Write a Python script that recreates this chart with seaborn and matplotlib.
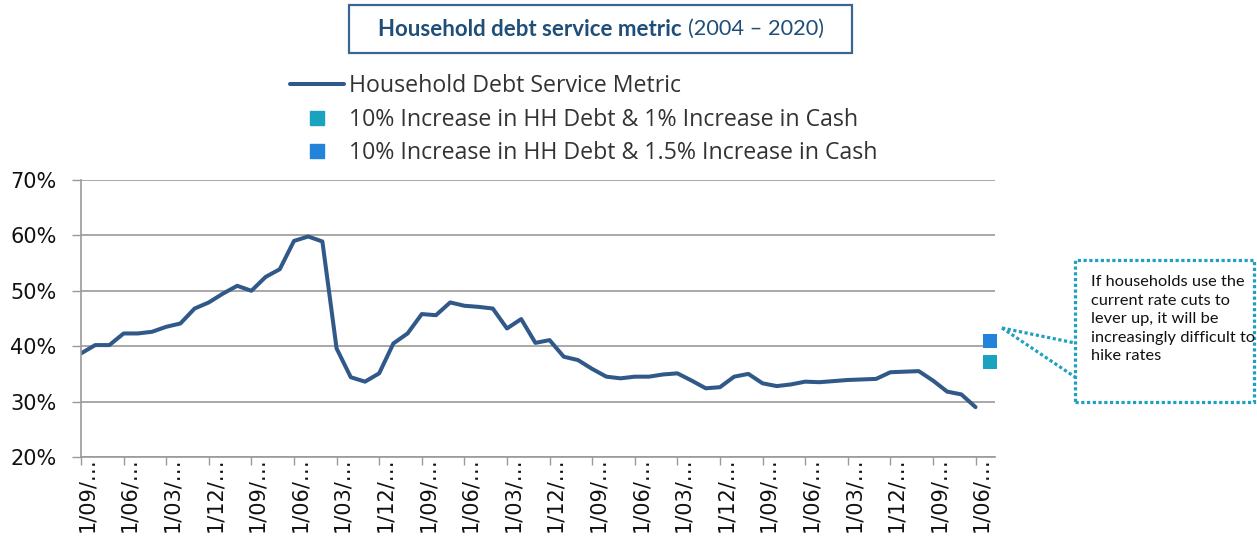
import numpy as np
import pandas as pd
import matplotlib
matplotlib.use("Agg")
import matplotlib.pyplot as plt
import matplotlib.transforms as mtransforms
from matplotlib.lines import Line2D
from matplotlib.patches import Rectangle
from matplotlib.ticker import FuncFormatter
import seaborn as sns

# Quarterly household debt service metric (%), Sep 2004 - Jun 2020
quarters = pd.date_range("2004-09-01", "2020-06-01", freq="3MS")
debt_service = [
    38.7, 40.2, 40.2, 42.3, 42.3, 42.6, 43.5, 44.1, 46.8, 47.9, 49.5, 50.9,
    50.0, 52.5, 53.9, 59.0, 59.8, 58.9,
    39.6, 34.4, 33.6, 35.1, 40.5, 42.3, 45.8, 45.6, 47.9, 47.3, 47.1, 46.8,
    43.2, 44.9, 40.6, 41.1, 38.1, 37.5, 35.9, 34.5, 34.2, 34.5, 34.5, 34.9,
    35.1, 33.8, 32.4, 32.6, 34.5, 35.0, 33.3, 32.8, 33.1, 33.6, 33.5, 33.7,
    33.9, 34.0, 34.1, 35.3, 35.4, 35.5, 33.8, 31.8, 31.3, 29.0,
]

# Scenario points for the following quarter (Sep 2020)
scenario_labels = [
    "10% Increase in HH Debt & 1% Increase in Cash",
    "10% Increase in HH Debt & 1.5% Increase in Cash",
]
scenario_values = [37.1, 40.9]
scenario_colors = ["#1AA3BF", "#2383DA"]

tick_labels = ["1/09/…", "1/06/…", "1/03/…", "1/12/…"] * 5 + ["1/09/…", "1/06/…"]

series_label = "Household Debt Service Metric"
line_color = "#30598A"

df = pd.DataFrame({"quarter": quarters, "value": debt_service})
df["pos"] = np.arange(len(df))
scen = pd.DataFrame({"pos": [len(df)] * 2, "value": scenario_values,
                     "scenario": scenario_labels})

sns.set_style("white")
plt.rcParams["font.family"] = ["DejaVu Sans"]

W, H = 1257, 537
fig = plt.figure(figsize=(W / 100, H / 100), dpi=100)


def fx(x):
    return x / W


def fy(y):
    return 1 - y / H


ax = fig.add_axes([fx(81), fy(457), (995 - 81) / W, (457 - 180) / H])

sns.lineplot(data=df, x="pos", y="value", ax=ax, color=line_color,
             linewidth=2.9, legend=False)
sns.scatterplot(data=scen, x="pos", y="value", hue="scenario",
                palette=dict(zip(scenario_labels, scenario_colors)),
                marker="s", s=100, linewidth=0, ax=ax, legend=False,
                clip_on=False, zorder=5)

ax.set_xlim(0, 64.37)
ax.set_ylim(20, 70)
ax.set_yticks(range(20, 71, 10))
ax.yaxis.set_major_formatter(FuncFormatter(lambda v, p: f"{v:.0f}%"))
ax.set_xticks(df["pos"].iloc[::3])
ax.set_xticklabels(tick_labels, rotation=90, ha="center", va="top")
ax.set_xlabel("")
ax.set_ylabel("")

grid_c = "#9A9A9A"
ax.grid(axis="y", color=grid_c, linewidth=1.2)
ax.grid(axis="x", visible=False)
for side in ["top", "right"]:
    ax.spines[side].set_visible(False)
for side in ["left", "bottom"]:
    ax.spines[side].set_color(grid_c)
    ax.spines[side].set_linewidth(1.2)
ax.tick_params(axis="x", direction="out", length=6, width=1, color=grid_c,
               labelsize=15, labelcolor="#111111", pad=-5.5, bottom=True)
ax.tick_params(axis="y", direction="out", length=6.5, width=1, color=grid_c,
               labelsize=15, labelcolor="#111111", pad=11, left=True)

shift = mtransforms.ScaledTranslation(6 / 100, 0, fig.dpi_scale_trans)
for lab in ax.get_xticklabels():
    lab.set_transform(lab.get_transform() + shift)

# Legend
handles = [
    Line2D([], [], color=line_color, linewidth=2.9),
    Line2D([], [], color=scenario_colors[0], marker="s", linestyle="none",
           markersize=9.5),
    Line2D([], [], color=scenario_colors[1], marker="s", linestyle="none",
           markersize=9.5),
]
leg = fig.legend(handles, [series_label] + scenario_labels,
                 loc="upper left", bbox_to_anchor=(fx(290), fy(74)),
                 frameon=False, borderpad=0, borderaxespad=0,
                 handlelength=2.33, handletextpad=0.22, labelspacing=0.42,
                 prop={"family": "Open Sans", "size": 16.7})
for t in leg.get_texts():
    t.set_color("#333333")

# Title box
fig.patches.append(Rectangle((fx(349), fy(53)), (852 - 349) / W, 48 / H,
                             transform=fig.transFigure, fill=False,
                             edgecolor="#3B6592", linewidth=1.6))
title_c = "#1F4E79"
fig.text(fx(682), fy(29), "Household debt service metric", ha="right",
         va="center", fontsize=16, fontweight="bold", color=title_c,
         family="Lato")
fig.text(fx(688), fy(29), "(2004 – 2020)", ha="left", va="center",
         fontsize=15.7, color=title_c, family="Lato")

# Callout box
callout_c = "#1EA1C0"
dots = (0, (1, 0.8))
fig.patches.append(Rectangle((fx(1075), fy(402)), (1254 - 1075) / W,
                             (402 - 260) / H, transform=fig.transFigure,
                             fill=False, edgecolor=callout_c, linewidth=2.3,
                             linestyle=dots))
for y_end in (343, 377):
    fig.lines.append(Line2D([fx(1002), fx(1075)], [fy(328), fy(y_end)],
                            transform=fig.transFigure, color=callout_c,
                            linewidth=2.3, linestyle=dots))
fig.text(fx(1091), fy(275),
         "If households use the\ncurrent rate cuts to\nlever up, it will be\n"
         "increasingly difficult to\nhike rates",
         ha="left", va="top", fontsize=11.75, family="Lato",
         color="#111111", linespacing=1.42)

fig.savefig("out.png", dpi=100)
